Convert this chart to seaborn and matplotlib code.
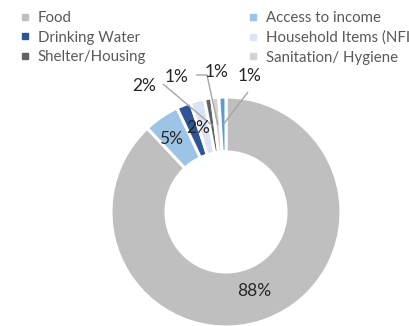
import matplotlib
matplotlib.use("Agg")
import matplotlib.pyplot as plt
import seaborn as sns
import numpy as np
from matplotlib.lines import Line2D

categories = ["Food", "Access to income", "Drinking Water", "Household Items (NFI)",
              "Shelter/Housing", "Sanitation/ Hygiene", "Other"]
values = [88, 5, 2, 2, 1, 1, 1]
pct_labels = ["88%", "5%", "2%", "2%", "1%", "1%", "1%"]
colors = ["#BFBFBF", "#9DC3E6", "#2F5597", "#DAE3F3", "#636363", "#D3D3D3", "#5B9BD5"]
legend_left = [0, 2, 4]
legend_right = [1, 3, 5]

sns.set_theme(style="white")
plt.rcParams["font.family"] = ["Lato", "DejaVu Sans"]

W, H = 410, 326
fig = plt.figure(figsize=(W / 100, H / 100), dpi=100)
ax = fig.add_axes([0, 0, 1, 1])
cx, cy, R, ring = 226, 114, 115, 55

wedges, _ = ax.pie(values, colors=colors, startangle=90, counterclock=False,
                   radius=R, center=(cx, cy),
                   wedgeprops=dict(width=ring, edgecolor="white", linewidth=2.2))
ax.set_xlim(0, W)
ax.set_ylim(0, H)
ax.set_aspect("equal")
ax.axis("off")

rm = R - ring / 2
def mid_point(w, r):
    a = np.deg2rad((w.theta1 + w.theta2) / 2)
    return cx + r * np.cos(a), cy + r * np.sin(a)

txt_color = "#262626"
fs = 12.5
# inside labels, with small nudges (px) like the original's label placement
nudge = {0: (-4, 2), 1: (-6, 1), 2: (4, 3)}
for i in range(3):
    x, y = mid_point(wedges[i], rm)
    ax.text(x + nudge[i][0], y + nudge[i][1], pct_labels[i], ha="center", va="center",
            fontsize=fs, color=txt_color)

# outside labels (positions in px from top) and leader lines
out_pos = {3: (144, 86), 4: (177, 77), 5: (217, 72), 6: (250, 76)}
line_start = {4: [(163, 84)], 5: [(196, 75), (207, 75)], 6: [(248, 92)]}
for i, (px, py) in out_pos.items():
    ax.text(px, H - py, pct_labels[i], ha="center", va="center", fontsize=fs, color=txt_color)
lc = "#A6A6A6"
for i, pts in line_start.items():
    mx, my = mid_point(wedges[i], rm)
    xs = [p[0] for p in pts] + [mx]
    ys = [H - p[1] for p in pts] + [my]
    ax.plot(xs, ys, color=lc, lw=1, solid_capstyle="butt")

def make_handles(idx):
    return [Line2D([], [], marker="s", linestyle="", markersize=5,
                   markerfacecolor=colors[i], markeredgecolor=colors[i]) for i in idx]

leg_kw = dict(frameon=False, fontsize=10.8, labelcolor="#595959", handlelength=0.6,
              handletextpad=0.5, labelspacing=0.38, borderaxespad=0, borderpad=0)
leg1 = fig.legend(make_handles(legend_left), [categories[i] for i in legend_left],
                  loc="upper left", bbox_to_anchor=(21 / W, 1 - 11 / H), **leg_kw)
leg2 = fig.legend(make_handles(legend_right), [categories[i] for i in legend_right],
                  loc="upper left", bbox_to_anchor=(249 / W, 1 - 11 / H), **leg_kw)

fig.savefig("out.png", dpi=100)
